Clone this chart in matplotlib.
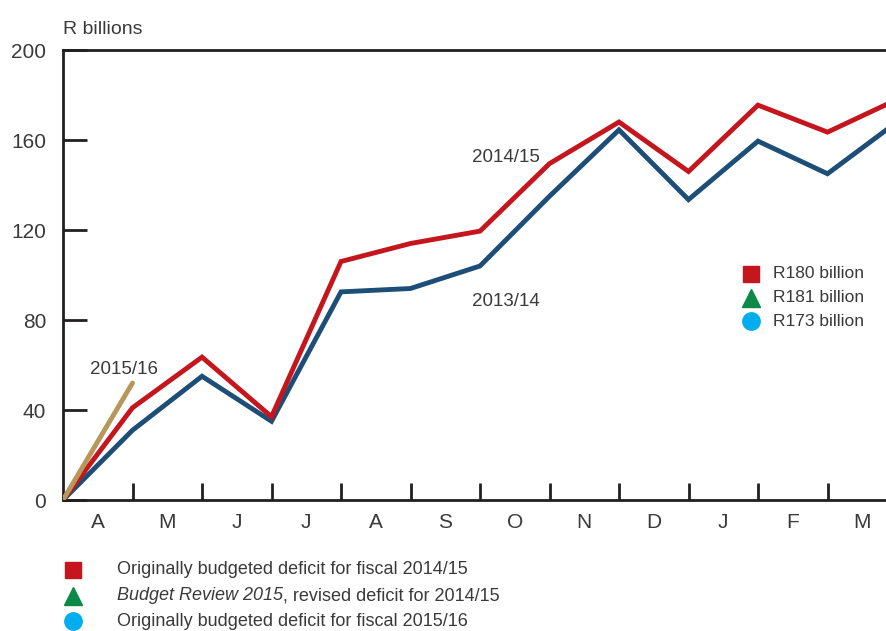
import matplotlib
matplotlib.use("Agg")
import matplotlib.pyplot as plt
from matplotlib.lines import Line2D

plt.rcParams['font.family'] = ['Liberation Sans', 'DejaVu Sans']

# cumulative deficit, R billions, by month of the fiscal year (April = 0 .. end of March = 12)
months = ['A', 'M', 'J', 'J', 'A', 'S', 'O', 'N', 'D', 'J', 'F', 'M']
deficit_2014_15 = [0, 41, 63.5, 37, 106, 114, 119.5, 149.5, 168, 146, 175.5, 163.5, 178]
deficit_2013_14 = [0, 31, 55, 35, 92.5, 94, 104, 135, 164.5, 133.5, 159.5, 145, 168]
deficit_2015_16 = [0, 52]

budget_labels = ['R180 billion', 'R181 billion', 'R173 billion']
budget_notes = ['Originally budgeted deficit for fiscal 2014/15',
                'Budget Review 2015, revised deficit for 2014/15',
                'Originally budgeted deficit for fiscal 2015/16']

red = '#c4161c'
blue = '#1d4e78'
tan = '#b8975a'
green = '#0b8a45'
cyan = '#00aeef'
ink = '#3a3a3a'
spine = '#231f20'

W, H = 886, 631
fig = plt.figure(figsize=(W / 100, H / 100), dpi=100)
ax = fig.add_axes([63 / W, (H - 500) / H, 823 / W, 450 / H])

ax.plot(range(len(deficit_2014_15)), deficit_2014_15, color=red, lw=3.5, solid_joinstyle='miter', zorder=3)
ax.plot(range(len(deficit_2013_14)), deficit_2013_14, color=blue, lw=3.5, solid_joinstyle='miter', zorder=2)
ax.plot(range(len(deficit_2015_16)), deficit_2015_16, color=tan, lw=3.5, solid_capstyle='round', zorder=4)

ax.set_xlim(0, 823 / 69.5)
ax.set_ylim(0, 200)

for s in ['left', 'top', 'bottom']:
    ax.spines[s].set_color(spine)
    ax.spines[s].set_linewidth(2)
ax.spines['right'].set_visible(False)

ax.set_yticks([0, 40, 80, 120, 160, 200])
ax.tick_params(axis='y', direction='in', length=17, width=2, color=spine,
               labelsize=15, labelcolor=ink, pad=12)
ax.set_xticks(range(1, 12))
ax.set_xticks([i + 0.5 for i in range(12)], minor=True)
ax.set_xticklabels(months, minor=True)
ax.tick_params(axis='x', which='major', direction='in', length=12, width=2,
               color=spine, labelbottom=False)
ax.tick_params(axis='x', which='minor', length=0, labelsize=15, labelcolor=ink, pad=9)

fig.text(63 / W, 1 - 34 / H, 'R billions', fontsize=14, color=ink,
         ha='left', va='baseline')

# series labels
ax.text(6.37, 152, '2014/15', fontsize=13.5, color=ink, ha='center', va='center')
ax.text(6.37, 88, '2013/14', fontsize=13.5, color=ink, ha='center', va='center')
ax.text(0.88, 58, '2015/16', fontsize=13.5, color=ink, ha='center', va='center')

# budget key inside the plot
key_y = [100.5, 90, 79.5]
key_markers = ['s', '^', 'o']
key_sizes = [12, 12.5, 12.5]
key_colors = [red, green, cyan]
for yy, m, ms, c, lab in zip(key_y, key_markers, key_sizes, key_colors, budget_labels):
    ax.plot([9.9], [yy], marker=m, color=c, ms=ms, ls='none', clip_on=False)
    ax.text(10.22, yy, lab, fontsize=12.5, color=ink, ha='left', va='center')

# notes below the chart
note_y = [570, 596, 621]
for yy, m, ms, c, note in zip(note_y, key_markers, key_sizes, key_colors, budget_notes):
    fig.add_artist(Line2D([73 / W], [1 - yy / H], marker=m, color=c, ms=ms,
                          ls='none', transform=fig.transFigure))
    if note.startswith('Budget Review 2015'):
        t = fig.text(117 / W, 1 - yy / H, 'Budget Review 2015', fontsize=13,
                     color=ink, style='italic', ha='left', va='center')
        fig.canvas.draw()
        bb = t.get_window_extent()
        fig.text(bb.x1 / W, 1 - yy / H, note[len('Budget Review 2015'):], fontsize=13,
                 color=ink, ha='left', va='center')
    else:
        fig.text(117 / W, 1 - yy / H, note, fontsize=13, color=ink, ha='left', va='center')

fig.savefig('out.png', dpi=100)
